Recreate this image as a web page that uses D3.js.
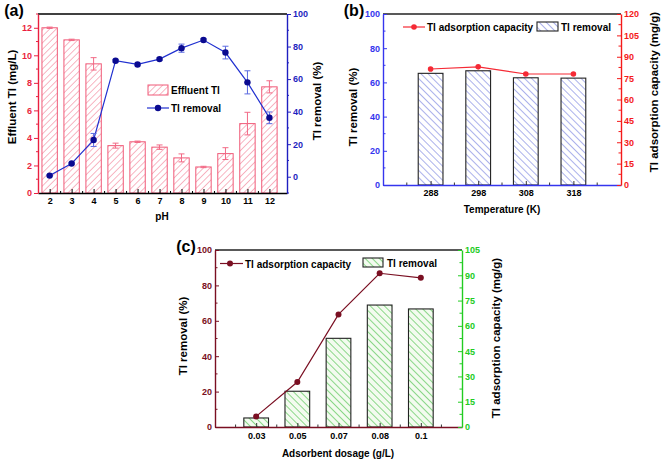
<!DOCTYPE html>
<html><head><meta charset="utf-8">
<script src="https://cdn.jsdelivr.net/npm/d3@7"></script>
<style>
html,body{margin:0;padding:0;background:#fff;}
svg{display:block;font-family:"Liberation Sans",Arial,sans-serif;font-weight:bold;}
</style></head>
<body>
<script>
// ---------- DATA ----------
const phValues = [2,3,4,5,6,7,8,9,10,11,12];
const effluentTl = [12.0,11.12,9.38,3.44,3.72,3.33,2.55,1.89,2.86,5.04,7.71];
const effluentErr = [0.05,0.05,0.45,0.18,0.05,0.16,0.29,0.05,0.43,0.82,0.44];
const removalPH = [0.7,8.1,22.6,71.3,69.0,72.3,79.0,84.0,76.3,58.0,36.2];
const removalPHErr = [0.4,0.5,4.0,0.8,0.8,0.8,2.5,0.8,3.9,7.1,3.6];

const temperatures = [288,298,308,318];
const removalT = [65.3,66.8,62.7,62.5];
const capacityT = [81.4,82.9,77.9,77.9];

const dosages = ["0.03","0.05","0.07","0.08","0.1"];
const removalD = [5.1,20.2,50.1,68.9,66.7];
const capacityD = [6.3,26.7,66.8,91.2,88.5];

const ticksA_left = [0,2,4,6,8,10,12];
const ticksA_right = [0,20,40,60,80,100];
const ticksB_left = [0,20,40,60,80,100];
const ticksB_right = [0,15,30,45,60,75,90,105,120];
const ticksC_left = [0,20,40,60,80,100];
const ticksC_right = [0,15,30,45,60,75,90,105];

// ---------- SETUP ----------
const W = 661, H = 462;
const svg = d3.select("body").append("svg").attr("width", W).attr("height", H);
const defs = svg.append("defs");
function hatch(id, color, size, angle, bg, sw){
  const p = defs.append("pattern").attr("id", id).attr("patternUnits","userSpaceOnUse")
    .attr("width", size).attr("height", size).attr("patternTransform", `rotate(${angle})`);
  p.append("rect").attr("width", size).attr("height", size).attr("fill", bg);
  p.append("line").attr("x1",0).attr("y1",0).attr("x2",0).attr("y2",size)
    .attr("stroke", color).attr("stroke-width", sw);
}
hatch("hA", "#f27a92", 4.6, 45, "#fff", 1.1);
hatch("hB", "#7d86e0", 5.0, -45, "#fff", 1.3);
hatch("hC", "#5cc85c", 5.0, -45, "#f3fbef", 1.4);

function styleAxis(g, color, textColor, fs){
  g.select(".domain").attr("stroke", color).attr("stroke-width", 1.4);
  g.selectAll(".tick line").attr("stroke", color).attr("stroke-width", 1);
  g.selectAll(".tick text").attr("fill", textColor || color)
    .style("font-size", (fs||9)+"px").style("font-weight","bold")
    .style("font-family","'Liberation Sans',Arial,sans-serif");
}
function minor(g, scale, vals, orient, size, color){
  vals.forEach(v=>{
    const p = scale(v);
    if(orient==="x") g.append("line").attr("x1",p).attr("x2",p).attr("y1",0).attr("y2",size).attr("stroke",color);
    else g.append("line").attr("y1",p).attr("y2",p).attr("x1",0).attr("x2",size).attr("stroke",color);
  });
}
function label(txt, x, y, size, rot, color){
  svg.append("text").attr("x", x).attr("y", y).attr("text-anchor","middle")
    .attr("transform", rot ? `rotate(${rot},${x},${y})` : null)
    .attr("dominant-baseline", rot ? "central" : null)
    .style("font-size", size+"px").attr("fill", color||"#000").text(txt);
}

// ---------- PANEL A ----------
{
  const L=38, R=287, T=14, B=193;
  const red="#ea1f40", blue="#1f1fc0", barStroke="#f05a78";
  const x = d3.scaleLinear().domain([1.47,12.8]).range([L,R]);
  const yL = d3.scaleLinear().domain([0,13]).range([B,T]);
  const yR = d3.scaleLinear().domain([-10,100]).range([B,T]);
  const bw = 0.7*(x(3)-x(2));
  // bars
  svg.append("g").selectAll("rect").data(phValues).join("rect")
    .attr("x", (d)=>x(d)-bw/2).attr("width", bw)
    .attr("y", (d,i)=>yL(effluentTl[i])).attr("height",(d,i)=>yL(0)-yL(effluentTl[i]))
    .attr("fill","url(#hA)").attr("stroke",barStroke).attr("stroke-width",1);
  // bar error bars
  const eb = svg.append("g").attr("stroke","#f26a86").attr("stroke-width",1);
  phValues.forEach((d,i)=>{
    const cx=x(d), y1=yL(effluentTl[i]-effluentErr[i]), y2=yL(effluentTl[i]+effluentErr[i]);
    eb.append("line").attr("x1",cx).attr("x2",cx).attr("y1",y1).attr("y2",y2);
    eb.append("line").attr("x1",cx-3).attr("x2",cx+3).attr("y1",y1).attr("y2",y1);
    eb.append("line").attr("x1",cx-3).attr("x2",cx+3).attr("y1",y2).attr("y2",y2);
  });
  // line
  const line = d3.line().x((d)=>x(d)).y((d,i)=>yR(removalPH[i]));
  svg.append("path").datum(phValues).attr("d",line).attr("fill","none").attr("stroke","#2030d0").attr("stroke-width",1.2);
  const lb = svg.append("g").attr("stroke","#5a6ae0").attr("stroke-width",1);
  phValues.forEach((d,i)=>{
    const cx=x(d), y1=yR(removalPH[i]-removalPHErr[i]), y2=yR(removalPH[i]+removalPHErr[i]);
    lb.append("line").attr("x1",cx).attr("x2",cx).attr("y1",y1).attr("y2",y2);
    lb.append("line").attr("x1",cx-3).attr("x2",cx+3).attr("y1",y1).attr("y2",y1);
    lb.append("line").attr("x1",cx-3).attr("x2",cx+3).attr("y1",y2).attr("y2",y2);
  });
  svg.append("g").selectAll("circle").data(phValues).join("circle")
    .attr("cx",(d)=>x(d)).attr("cy",(d,i)=>yR(removalPH[i])).attr("r",3.2).attr("fill","#0a0a90");
  // axes
  svg.append("line").attr("x1",L).attr("x2",R).attr("y1",T).attr("y2",T).attr("stroke","#000").attr("stroke-width",1.4);
  const gx = svg.append("g").attr("transform",`translate(0,${B})`)
    .call(d3.axisBottom(x).tickValues(phValues).tickSize(-4).tickPadding(5).tickSizeOuter(0));
  styleAxis(gx,"#000","#000",9);
  minor(gx, x, phValues.slice(0,-1).map(v=>v+0.5), "x", -2, "#000");
  const gl = svg.append("g").attr("transform",`translate(${L},0)`)
    .call(d3.axisLeft(yL).tickValues(ticksA_left).tickSize(4).tickPadding(2).tickSizeOuter(0));
  styleAxis(gl, red, red, 9);
  minor(gl, yL, [1,3,5,7,9,11,13], "y", -2, red);
  const gr = svg.append("g").attr("transform",`translate(${R},0)`)
    .call(d3.axisRight(yR).tickValues(ticksA_right).tickSize(4).tickPadding(2).tickSizeOuter(0));
  styleAxis(gr, blue, blue, 9);
  minor(gr, yR, [-10,10,30,50,70,90], "y", 2, blue);
  // titles
  label("(a)", 14, 16, 16);
  label("pH", 162, 220, 10);
  label("Effluent Tl (mg/L)", 11.5, 97, 11.5, -90);
  label("Tl removal (%)", 317, 101, 11.5, -90);
  // legend
  svg.append("rect").attr("x",148).attr("y",85).attr("width",20).attr("height",10)
    .attr("fill","url(#hA)").attr("stroke",barStroke);
  svg.append("text").attr("x",171).attr("y",94).style("font-size","10px").text("Effluent Tl");
  svg.append("line").attr("x1",147).attr("x2",169).attr("y1",108).attr("y2",108).attr("stroke","#2030d0").attr("stroke-width",1.2);
  svg.append("circle").attr("cx",158).attr("cy",108).attr("r",3.2).attr("fill","#0a0a90");
  svg.append("text").attr("x",171).attr("y",112).style("font-size","10px").text("Tl removal");
}

// ---------- PANEL B ----------
{
  const L=383, R=621, T=14, B=185;
  const blue="#3535ee", red="#f51a1a";
  const x = d3.scaleLinear().domain([278,328]).range([L,R]);
  const yL = d3.scaleLinear().domain([0,100]).range([B,T]);
  const yR = d3.scaleLinear().domain([0,120]).range([B,T]);
  const bw = 0.52*(x(298)-x(288));
  svg.append("g").selectAll("rect").data(temperatures).join("rect")
    .attr("x",(d)=>x(d)-bw/2).attr("width",bw)
    .attr("y",(d,i)=>yL(removalT[i])).attr("height",(d,i)=>yL(0)-yL(removalT[i]))
    .attr("fill","url(#hB)").attr("stroke","#222").attr("stroke-width",1.1);
  const line = d3.line().x((d)=>x(d)).y((d,i)=>yR(capacityT[i]));
  svg.append("path").datum(temperatures).attr("d",line).attr("fill","none").attr("stroke","#f52a35").attr("stroke-width",1.2);
  svg.append("g").selectAll("circle").data(temperatures).join("circle")
    .attr("cx",(d)=>x(d)).attr("cy",(d,i)=>yR(capacityT[i])).attr("r",2.8).attr("fill","#f52a35");
  svg.append("line").attr("x1",L).attr("x2",R).attr("y1",T).attr("y2",T).attr("stroke","#222").attr("stroke-width",1.4);
  const gx = svg.append("g").attr("transform",`translate(0,${B})`)
    .call(d3.axisBottom(x).tickValues(temperatures).tickSize(-4).tickPadding(5).tickSizeOuter(0));
  styleAxis(gx,"#333","#000",9);
  gx.select(".domain").attr("stroke",blue);
  minor(gx, x, [283,293,303,313,323], "x", -2.5, "#333");
  const gl = svg.append("g").attr("transform",`translate(${L},0)`)
    .call(d3.axisLeft(yL).tickValues(ticksB_left).tickSize(-4).tickPadding(3).tickSizeOuter(0));
  styleAxis(gl, blue, blue, 9);
  minor(gl, yL, [10,30,50,70,90], "y", 2.5, blue);
  const gr = svg.append("g").attr("transform",`translate(${R},0)`)
    .call(d3.axisRight(yR).tickValues(ticksB_right).tickSize(-4).tickPadding(3).tickSizeOuter(0));
  styleAxis(gr, red, red, 9);
  minor(gr, yR, [7.5,22.5,37.5,52.5,67.5,82.5,97.5,112.5], "y", -2.5, red);
  label("(b)", 354, 16, 16);
  label("Temperature (K)", 502, 213, 10);
  label("Tl removal (%)", 352.5, 107, 11.5, -90);
  label("Tl adsorption capacity (mg/g)", 654, 92, 11.5, -90);
  svg.append("line").attr("x1",403).attr("x2",425).attr("y1",27).attr("y2",27).attr("stroke","#f52a35").attr("stroke-width",1.2);
  svg.append("circle").attr("cx",414).attr("cy",27).attr("r",2.8).attr("fill","#f52a35");
  svg.append("text").attr("x",427).attr("y",31).style("font-size","10px").text("Tl adsorption capacity");
  svg.append("rect").attr("x",537).attr("y",22).attr("width",21).attr("height",9)
    .attr("fill","url(#hB)").attr("stroke","#222").attr("stroke-width",1.1);
  svg.append("text").attr("x",561).attr("y",31).style("font-size","10px").text("Tl removal");
}

// ---------- PANEL C ----------
{
  const L=215, R=462, T=250, B=427;
  const maroon="#7a0f22", green="#22cc22";
  const x = d3.scaleLinear().domain([0,dosages.length+1]).range([L,R]);
  const yL = d3.scaleLinear().domain([0,100]).range([B,T]);
  const yR = d3.scaleLinear().domain([0,105]).range([B,T]);
  const idx = dosages.map((d,i)=>i+1);
  const bw = 0.6*(x(2)-x(1));
  svg.append("g").selectAll("rect").data(idx).join("rect")
    .attr("x",(d)=>x(d)-bw/2).attr("width",bw)
    .attr("y",(d,i)=>yL(removalD[i])).attr("height",(d,i)=>yL(0)-yL(removalD[i]))
    .attr("fill","url(#hC)").attr("stroke","#222").attr("stroke-width",1.1);
  const line = d3.line().x((d)=>x(d)).y((d,i)=>yR(capacityD[i]));
  svg.append("path").datum(idx).attr("d",line).attr("fill","none").attr("stroke",maroon).attr("stroke-width",1.2);
  svg.append("g").selectAll("circle").data(idx).join("circle")
    .attr("cx",(d)=>x(d)).attr("cy",(d,i)=>yR(capacityD[i])).attr("r",3).attr("fill",maroon);
  svg.append("line").attr("x1",L).attr("x2",R).attr("y1",T).attr("y2",T).attr("stroke","#222").attr("stroke-width",1.4);
  const gx = svg.append("g").attr("transform",`translate(0,${B})`)
    .call(d3.axisBottom(x).tickValues(idx).tickFormat((d)=>dosages[d-1]).tickSize(-4).tickPadding(6).tickSizeOuter(0));
  styleAxis(gx,"#333","#000",9);
  gx.select(".domain").attr("stroke",maroon);
  minor(gx, x, [0.5,1.5,2.5,3.5,4.5,5.5], "x", -2.5, "#333");
  const gl = svg.append("g").attr("transform",`translate(${L},0)`)
    .call(d3.axisLeft(yL).tickValues(ticksC_left).tickSize(-4).tickPadding(3).tickSizeOuter(0));
  styleAxis(gl, maroon, maroon, 9);
  minor(gl, yL, [10,30,50,70,90], "y", 2.5, maroon);
  const gr = svg.append("g").attr("transform",`translate(${R},0)`)
    .call(d3.axisRight(yR).tickValues(ticksC_right).tickSize(-4).tickPadding(3).tickSizeOuter(0));
  styleAxis(gr, green, green, 9);
  minor(gr, yR, [7.5,22.5,37.5,52.5,67.5,82.5,97.5], "y", -2.5, green);
  label("(c)", 186, 252, 16);
  label("Adsorbent dosage (g/L)", 338, 457, 10);
  label("Tl removal (%)", 182.5, 336, 11.5, -90);
  label("Tl adsorption capacity (mg/g)", 496, 338, 11.5, -90);
  svg.append("line").attr("x1",220).attr("x2",243).attr("y1",263.5).attr("y2",263.5).attr("stroke",maroon).attr("stroke-width",1.2);
  svg.append("circle").attr("cx",230).attr("cy",263.5).attr("r",3).attr("fill",maroon);
  svg.append("text").attr("x",245).attr("y",267.5).style("font-size","10px").text("Tl adsorption capacity");
  svg.append("rect").attr("x",363).attr("y",258).attr("width",20).attr("height",9)
    .attr("fill","url(#hC)").attr("stroke","#222").attr("stroke-width",1.1);
  svg.append("text").attr("x",387).attr("y",267).style("font-size","10px").text("Tl removal");
}
</script>
</body></html>
